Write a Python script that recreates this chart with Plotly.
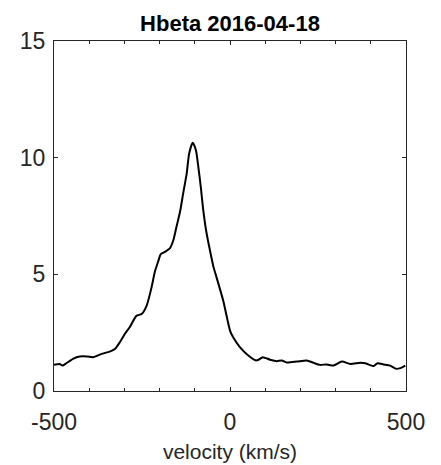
import plotly.graph_objects as go

# Hbeta line profile
velocity = [-500, -484, -476, -465, -446, -427, -405, -389, -365, -342, -327,
            -313, -299, -285, -266, -251, -237, -223, -213, -204, -197, -185,
            -171, -161, -152, -142, -133, -123, -116, -106, -97, -90, -83,
            -76, -68, -59, -47, -38, -19, 0, 9, 28, 52, 74, 81, 93, 114, 133,
            147, 161, 190, 218, 237, 256, 275, 294, 318, 342, 370, 384, 408,
            419, 436, 455, 472, 484, 498]
flux = [1.12, 1.16, 1.09, 1.19, 1.38, 1.48, 1.48, 1.45, 1.59, 1.69, 1.80,
        2.09, 2.44, 2.73, 3.22, 3.30, 3.65, 4.43, 5.14, 5.55, 5.86, 5.96,
        6.11, 6.46, 7.04, 7.68, 8.47, 9.33, 10.18, 10.64, 10.33, 9.61, 8.75,
        7.75, 6.89, 6.18, 5.32, 4.86, 3.86, 2.59, 2.30, 1.88, 1.52, 1.31,
        1.34, 1.45, 1.34, 1.28, 1.31, 1.22, 1.26, 1.31, 1.21, 1.12, 1.14,
        1.09, 1.26, 1.16, 1.21, 1.19, 1.07, 1.19, 1.14, 1.09, 0.95, 0.98,
        1.09]

xticks = [-500, 0, 500]
yticks = [0, 5, 10, 15]

fig = go.Figure()
fig.add_trace(go.Scatter(x=velocity, y=flux, mode='lines',
                         line=dict(color='black', width=2, shape='spline', smoothing=0.6),
                         showlegend=False))

axis_style = dict(showgrid=False, zeroline=False, showline=True, linecolor='#262626',
                  linewidth=1, mirror='ticks', ticks='inside', ticklen=4,
                  tickcolor='#262626', tickfont=dict(size=23, color='#262626'))

fig.update_xaxes(range=[-500, 500], tickvals=xticks, ticktext=[str(t) for t in xticks],
                 minor=dict(dtick=100, tick0=0, ticks='inside', ticklen=3, tickcolor='#262626'),
                 ticklabelstandoff=10,
                 title=dict(text='velocity (km/s)', font=dict(size=21, color='#262626'), standoff=10),
                 **axis_style)
fig.update_yaxes(range=[0, 15], tickvals=yticks, ticklabelstandoff=3, **axis_style)

# page body adds an 8px offset, so margins are shifted to compensate
fig.update_layout(
    width=441, height=465,
    margin=dict(l=46, r=43, t=33, b=82),
    plot_bgcolor='white', paper_bgcolor='white',
    font=dict(family='Liberation Sans, Arial, sans-serif', color='#262626'),
    title=dict(text='<b>Hbeta 2016-04-18</b>', x=0.5, xanchor='center',
               xref='paper', yref='container', y=0.967, yanchor='middle',
               font=dict(size=22, color='black')),
)

fig.write_html("out.html")
